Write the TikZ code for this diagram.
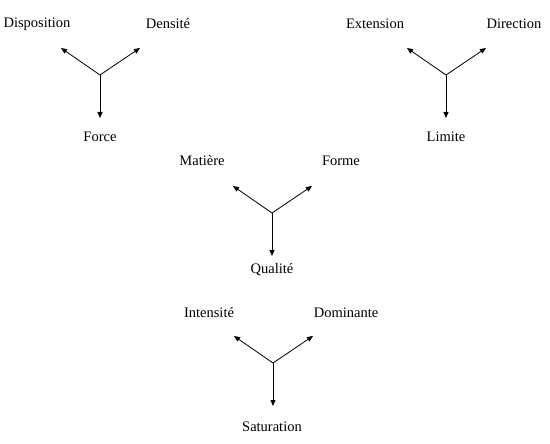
\documentclass[tikz,border=0pt]{standalone}
\usepackage{fontspec}
\setmainfont{Liberation Serif}
\usetikzlibrary{arrows.meta}
\tikzset{fleche/.style={-{Triangle[length=6pt,width=5pt]},line width=.8pt},
 mot/.style={inner sep=0pt,font=\fontsize{14.5}{17}\selectfont}}
\newcommand{\fourche}[2]{%
 \coordinate ({#1}) at ({#2});%
 \path ({#1}) ++(-39,-27) coordinate ({#1g});%
 \path ({#1}) ++(40,-27) coordinate ({#1d});%
 \path ({#1}) ++(0,43) coordinate ({#1b});%
 \draw [fleche] ({#1}) -- ({#1g});%
 \draw [fleche] ({#1}) -- ({#1d});%
 \draw [fleche] ({#1}) -- ({#1b});%
}

\begin{document}
\begin{tikzpicture}[x=1pt,y=-1pt]
   \useasboundingbox (0,0) rectangle (550,444);
   \fourche{f1}{100,75}
   \fourche{f2}{446,75}
   \fourche{f3}{272,213}
   \fourche{f4}{273,363}
   \node[mot] (disposition) at (37,24) {Disposition};
   \node[mot] (densite) at (168,24) {Densité};
   \node[mot] (force) at (100,137) {Force};
   \node[mot] (extension) at (375,24) {Extension};
   \node[mot] (direction) at (514,24) {Direction};
   \node[mot] (limite) at (446,137) {Limite};
   \node[mot] (matiere) at (202,161) {Matière};
   \node[mot] (forme) at (341,161) {Forme};
   \node[mot] (qualite) at (272,270) {Qualité};
   \node[mot] (intensite) at (209,313) {Intensité};
   \node[mot] (dominante) at (346,313) {Dominante};
   \node[mot] (saturation) at (272,427) {Saturation};
\end{tikzpicture}
\end{document}
